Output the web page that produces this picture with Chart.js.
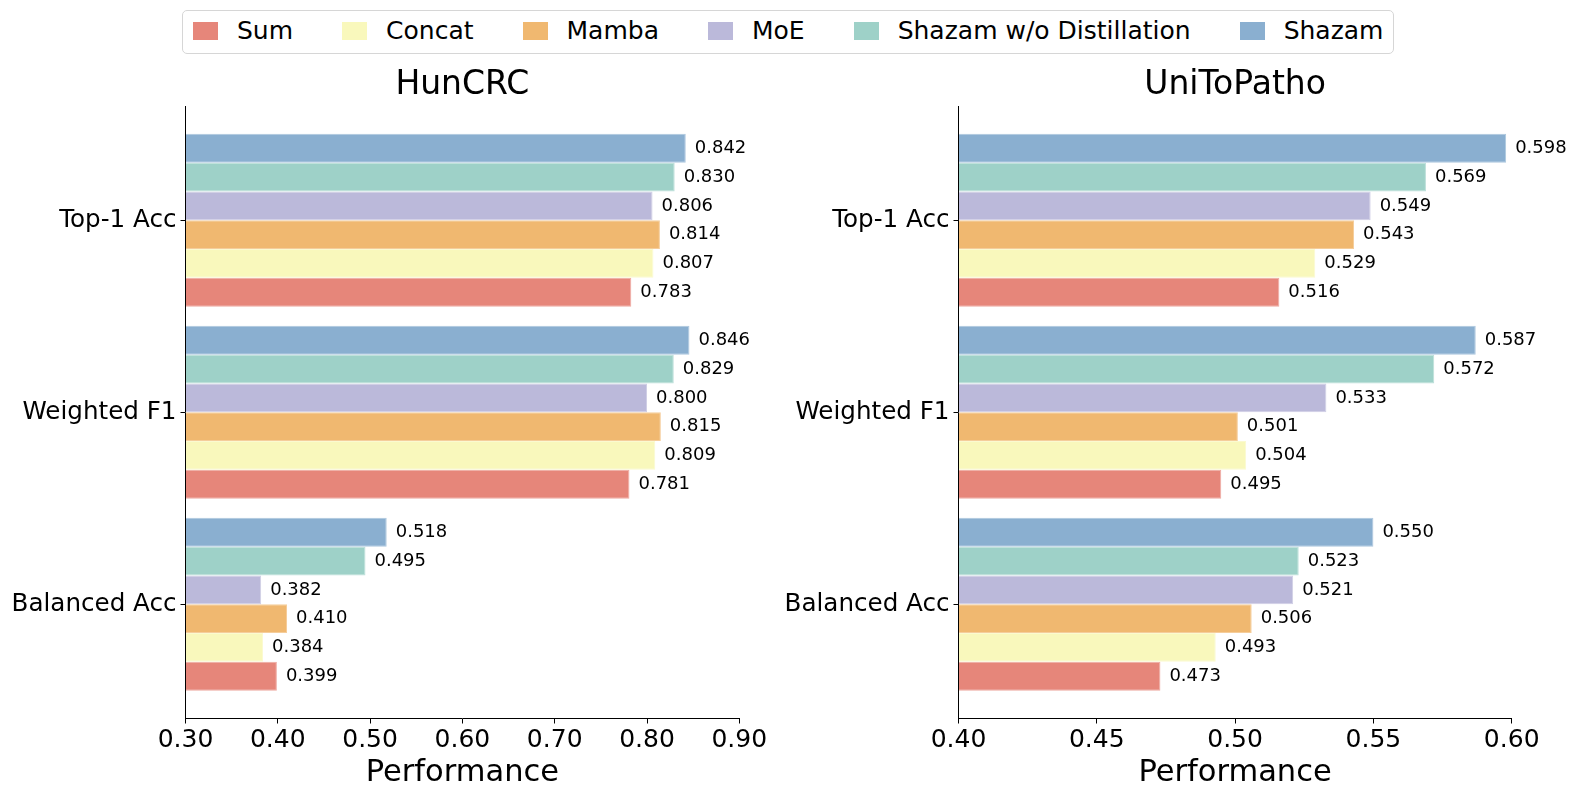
<!DOCTYPE html>
<html>
<head>
<meta charset="utf-8">
<script src="https://cdn.jsdelivr.net/npm/chart.js@4.4.1/dist/chart.umd.min.js"></script>
<style>
html,body{margin:0;padding:0;background:#fff;width:1577px;height:797px;overflow:hidden;font-family:'DejaVu Sans',sans-serif;}
#wrapL{position:absolute;left:0;top:0;width:770px;height:797px;}
#wrapR{position:absolute;left:770px;top:0;width:807px;height:797px;}
#legend{position:absolute;left:182px;top:10px;box-sizing:border-box;height:44px;border:1px solid #d6d6d6;border-radius:5px;display:flex;align-items:center;padding:0 10px 3px 10px;white-space:nowrap;font-size:25px;color:#000;background:#fff;}
.item{display:flex;align-items:center;margin-right:49px;}
.item:last-child{margin-right:0;}
.sw{width:25px;height:18px;margin-right:19px;}
</style>
</head>
<body>
<div id="wrapL"><canvas id="cL"></canvas></div>
<div id="wrapR"><canvas id="cR"></canvas></div>
<div id="legend"></div>
<script>
// ---- data ----
const categories = ['Top-1 Acc', 'Weighted F1', 'Balanced Acc'];
const seriesNames = ['Sum', 'Concat', 'Mamba', 'MoE', 'Shazam w/o Distillation', 'Shazam'];
const seriesColors = ['#e6867a', '#f9f8bc', '#f0b870', '#bbb9da', '#9ed1c8', '#8aafd0'];

const hunSum     = [0.783, 0.781, 0.399];
const hunConcat  = [0.807, 0.809, 0.384];
const hunMamba   = [0.814, 0.815, 0.410];
const hunMoE     = [0.806, 0.800, 0.382];
const hunShazamWo= [0.830, 0.829, 0.495];
const hunShazam  = [0.842, 0.846, 0.518];

const uniSum     = [0.516, 0.495, 0.473];
const uniConcat  = [0.529, 0.504, 0.493];
const uniMamba   = [0.543, 0.501, 0.506];
const uniMoE     = [0.549, 0.533, 0.521];
const uniShazamWo= [0.569, 0.572, 0.523];
const uniShazam  = [0.598, 0.587, 0.550];

const hunTicks = [0.30, 0.40, 0.50, 0.60, 0.70, 0.80, 0.90];
const uniTicks = [0.40, 0.45, 0.50, 0.55, 0.60];

// lighter edge tone of a bar colour
function lighten(hex, t) {
  const n = parseInt(hex.slice(1), 16);
  const r = (n >> 16) & 255, g = (n >> 8) & 255, b = n & 255;
  const f = c => Math.round(c + (255 - c) * t);
  return `rgb(${f(r)},${f(g)},${f(b)})`;
}

// ---- legend ----
const legendEl = document.getElementById('legend');
seriesNames.forEach((n, i) => {
  const it = document.createElement('div'); it.className = 'item';
  const sw = document.createElement('div'); sw.className = 'sw'; sw.style.background = seriesColors[i];
  const tx = document.createElement('span'); tx.textContent = n;
  it.appendChild(sw); it.appendChild(tx); legendEl.appendChild(it);
});

Chart.defaults.font.family = "'DejaVu Sans'";
Chart.defaults.color = '#000';

const valueLabels = {
  id: 'valueLabels',
  afterDatasetsDraw(chart) {
    const ctx = chart.ctx;
    ctx.save();
    ctx.font = "18px 'DejaVu Sans'";
    ctx.fillStyle = '#000';
    ctx.textBaseline = 'middle';
    ctx.textAlign = 'left';
    chart.data.datasets.forEach((ds, i) => {
      const meta = chart.getDatasetMeta(i);
      meta.data.forEach((el, j) => {
        ctx.fillText(ds.data[j].x.toFixed(3), el.x + 9, el.y);
      });
    });
    ctx.restore();
  }
};

const panelTitle = {
  id: 'panelTitle',
  afterDraw(chart, args, opts) {
    const ctx = chart.ctx, a = chart.chartArea;
    ctx.save();
    ctx.font = "33px 'DejaVu Sans'";
    ctx.fillStyle = '#000';
    ctx.textAlign = 'center';
    ctx.textBaseline = 'middle';
    ctx.fillText(opts.text, (a.left + a.right) / 2, 85.9);
    ctx.restore();
  }
};

function makeChart(id, title, series, xMin, xMax, xTicks, yW, padR) {
  // Shazam drawn at the top of each group, Sum at the bottom
  const order = [5, 4, 3, 2, 1, 0];
  const datasets = order.map(k => ({
    label: seriesNames[k],
    data: series[k].map((v, i) => ({ x: v, y: i })),
    backgroundColor: seriesColors[k],
    borderColor: lighten(seriesColors[k], 0.3),
    borderWidth: 1,
    base: xMin,
    categoryPercentage: 0.9,
    barPercentage: 1.0
  }));
  const grid = () => ({ display: true, offset: false, drawOnChartArea: false, drawTicks: true, tickLength: 5, color: '#000', tickColor: '#000', tickWidth: 1, lineWidth: 1 });
  return new Chart(document.getElementById(id), {
    type: 'bar',
    data: { datasets },
    plugins: [valueLabels, panelTitle],
    options: {
      indexAxis: 'y',
      responsive: true,
      maintainAspectRatio: false,
      animation: false,
      layout: { autoPadding: false, padding: { left: 0, right: padR, top: 106, bottom: 0 } },
      plugins: {
        legend: { display: false },
        tooltip: { enabled: false },
        title: { display: false },
        panelTitle: { text: title }
      },
      scales: {
        y: {
          type: 'linear', reverse: true, offset: false, min: -0.595, max: 2.595,
          afterBuildTicks: s => { s.ticks = categories.map((c, i) => ({ value: i })); },
          afterFit: s => { s.width = yW; s.paddingTop = 0; s.paddingBottom = 0; },
          ticks: { callback: v => categories[v], font: { size: 24.6 }, color: '#000', padding: 4, autoSkip: false },
          grid: grid(),
          border: { display: true, color: '#000', width: 1 }
        },
        x: {
          type: 'linear', min: xMin, max: xMax, offset: false,
          afterBuildTicks: s => { s.ticks = xTicks.map(v => ({ value: v })); },
          afterFit: s => { s.height = 78.5; s.paddingLeft = 0; s.paddingRight = 0; },
          ticks: { callback: v => v.toFixed(2), font: { size: 25 }, color: '#000', padding: 2, maxRotation: 0, autoSkip: false },
          grid: grid(),
          border: { display: true, color: '#000', width: 1 },
          title: { display: true, text: 'Performance', color: '#000', font: { size: 30.5 }, padding: { top: 0, bottom: 6 } }
        }
      }
    }
  });
}

makeChart('cL', 'HunCRC', [hunSum, hunConcat, hunMamba, hunMoE, hunShazamWo, hunShazam], 0.3, 0.9, hunTicks, 185.5, 30.7);
makeChart('cR', 'UniToPatho', [uniSum, uniConcat, uniMamba, uniMoE, uniShazamWo, uniShazam], 0.4, 0.6, uniTicks, 188.5, 65.3);
</script>
</body>
</html>
